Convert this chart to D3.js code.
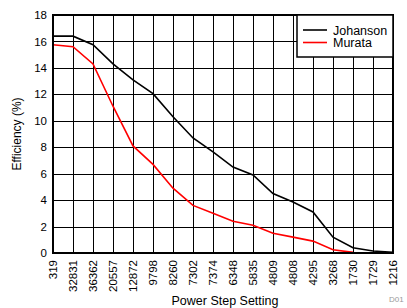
<!DOCTYPE html>
<html>
<head>
<meta charset="utf-8">
<script src="https://cdn.jsdelivr.net/npm/d3@7"></script>
<style>
  body { margin: 0; background: #fff; }
  text { font-family: "Liberation Sans", Arial, sans-serif; }
</style>
</head>
<body>
<script>
var categories = ["319", "32831", "36362", "20557", "12872", "9798", "8260", "7302", "7374",
                  "6348", "5835", "4809", "4808", "4295", "3268", "1730", "1729", "1216"];
var johanson = [16.4, 16.4, 15.75, 14.3, 13.1, 12.05, 10.3, 8.7, 7.65, 6.5, 5.9, 4.5, 3.85, 3.1, 1.2, 0.4, 0.15, 0.05];
var murata = [15.75, 15.6, 14.3, 11.1, 8.1, 6.7, 4.9, 3.6, 3.0, 2.4, 2.1, 1.5, 1.2, 0.9, 0.25, 0.05];
var yTicks = [0, 2, 4, 6, 8, 10, 12, 14, 16, 18];

var width = 407,
    height = 308;
var margin = {top: 15, right: 14, bottom: 55, left: 53};
var w = width - margin.left - margin.right,
    h = height - margin.top - margin.bottom;

var svg = d3.select("body").append("svg")
    .attr("width", width)
    .attr("height", height);

var g = svg.append("g")
    .attr("transform", "translate(" + margin.left + "," + margin.top + ")");

var x = d3.scalePoint()
    .domain(categories)
    .range([0, w]);

var y = d3.scaleLinear()
    .domain([0, 18])
    .range([h, 0]);

// grid
g.selectAll(".hgrid")
    .data(yTicks)
  .enter().append("line")
    .attr("x1", 0).attr("x2", w)
    .attr("y1", function(d) { return Math.round(y(d)) + 0.5; })
    .attr("y2", function(d) { return Math.round(y(d)) + 0.5; })
    .attr("stroke", "#000")
    .attr("stroke-width", 1);

g.selectAll(".vgrid")
    .data(categories)
  .enter().append("line")
    .attr("x1", function(d) { return Math.round(x(d)) + 0.5; })
    .attr("x2", function(d) { return Math.round(x(d)) + 0.5; })
    .attr("y1", 0).attr("y2", h)
    .attr("stroke", "#000")
    .attr("stroke-width", 1);

// y axis labels
g.selectAll(".ylab")
    .data(yTicks)
  .enter().append("text")
    .attr("x", -6)
    .attr("y", function(d) { return y(d); })
    .attr("dy", "0.36em")
    .attr("text-anchor", "end")
    .attr("font-size", 11.5)
    .text(function(d) { return d; });

// x axis labels
g.selectAll(".xlab")
    .data(categories)
  .enter().append("text")
    .attr("transform", function(d) { return "translate(" + (x(d) + 4) + "," + (h + 7) + ") rotate(-90)"; })
    .attr("text-anchor", "end")
    .attr("font-size", 11.5)
    .text(function(d) { return d; });

var line = d3.line()
    .x(function(d, i) { return x(categories[i]); })
    .y(function(d) { return y(d); });

g.append("path")
    .datum(murata)
    .attr("d", line)
    .attr("fill", "none")
    .attr("stroke", "#ff0000")
    .attr("stroke-width", 1.6);

g.append("path")
    .datum(johanson)
    .attr("d", line)
    .attr("fill", "none")
    .attr("stroke", "#000")
    .attr("stroke-width", 1.6);

// frame
g.append("rect")
    .attr("x", 0).attr("y", 0)
    .attr("width", w).attr("height", h)
    .attr("fill", "none")
    .attr("stroke", "#000")
    .attr("stroke-width", 2);

// legend
var lg = g.append("g").attr("transform", "translate(" + (w - 96) + ",0)");
lg.append("rect")
    .attr("width", 96).attr("height", 42)
    .attr("fill", "#fff")
    .attr("stroke", "#000")
    .attr("stroke-width", 1.5);
var items = [{name: "Johanson", color: "#000"}, {name: "Murata", color: "#ff0000"}];
items.forEach(function(it, i) {
  lg.append("line")
      .attr("x1", 6).attr("x2", 30)
      .attr("y1", 15 + i * 12.5).attr("y2", 15 + i * 12.5)
      .attr("stroke", it.color)
      .attr("stroke-width", 1.6);
  lg.append("text")
      .attr("x", 36)
      .attr("y", 15 + i * 12.5)
      .attr("dy", "0.36em")
      .attr("font-size", 12.5)
      .text(it.name);
});

// axis titles
svg.append("text")
    .attr("transform", "translate(21," + (margin.top + h / 2) + ") rotate(-90)")
    .attr("text-anchor", "middle")
    .attr("font-size", 12)
    .text("Efficiency (%)");

svg.append("text")
    .attr("x", 225)
    .attr("y", 305)
    .attr("text-anchor", "middle")
    .attr("font-size", 12.5)
    .text("Power Step Setting");

svg.append("text")
    .attr("x", 389)
    .attr("y", 302)
    .attr("font-size", 8)
    .attr("fill", "#999")
    .text("D01");
</script>
</body>
</html>
